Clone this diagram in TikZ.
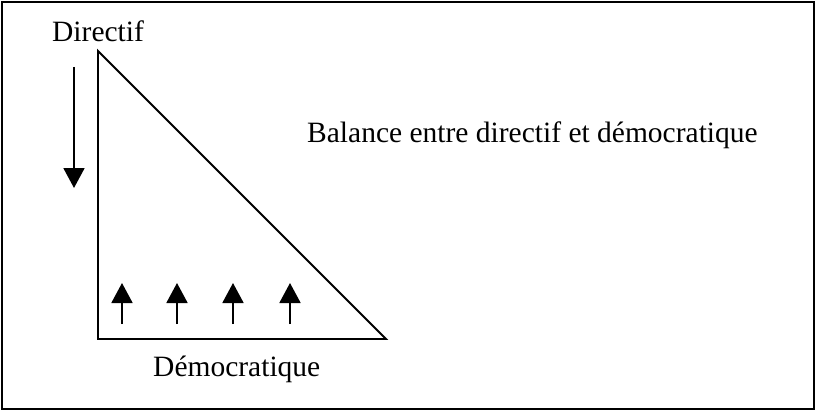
\documentclass[tikz,border=0pt]{standalone}
\usepackage{fontspec}
\setmainfont{Liberation Serif}
\usetikzlibrary{arrows.meta}
\begin{document}
\begin{tikzpicture}[x=1pt,y=-1pt,
  lbl/.style={inner sep=0pt,anchor=base west,font=\fontsize{29.5}{34}\selectfont},
  ln/.style={line width=1.9pt},
  arr/.style={line width=1.9pt,-{Triangle[width=21pt,length=20pt]}}]
\useasboundingbox (0,0) rectangle (817,412);
\draw[ln] (2,2) rectangle (814,409);
% triangle
\coordinate (A) at (98,51);
\coordinate (B) at (98,339);
\coordinate (C) at (386,339);
\draw[ln,line join=miter] (A) -- (B) -- (C) -- cycle;
% labels
\node[lbl] (dir) at (52,42) {Directif};
\node[lbl] (bal) at (307,142) {Balance entre directif et démocratique};
\node[lbl] (dem) at (153,376) {Démocratique};
% down arrow
\coordinate (d1) at (74,67);
\coordinate (d2) at (74,188);
\draw[arr] (d1) -- (d2);
% up arrows
\foreach \x/\n in {122/1,177/2,233/3,290/4}{
  \coordinate (u\n a) at (\x,324);
  \coordinate (u\n b) at (\x,283);
  \draw[arr] (u\n a) -- (u\n b);
}
\end{tikzpicture}
\end{document}
